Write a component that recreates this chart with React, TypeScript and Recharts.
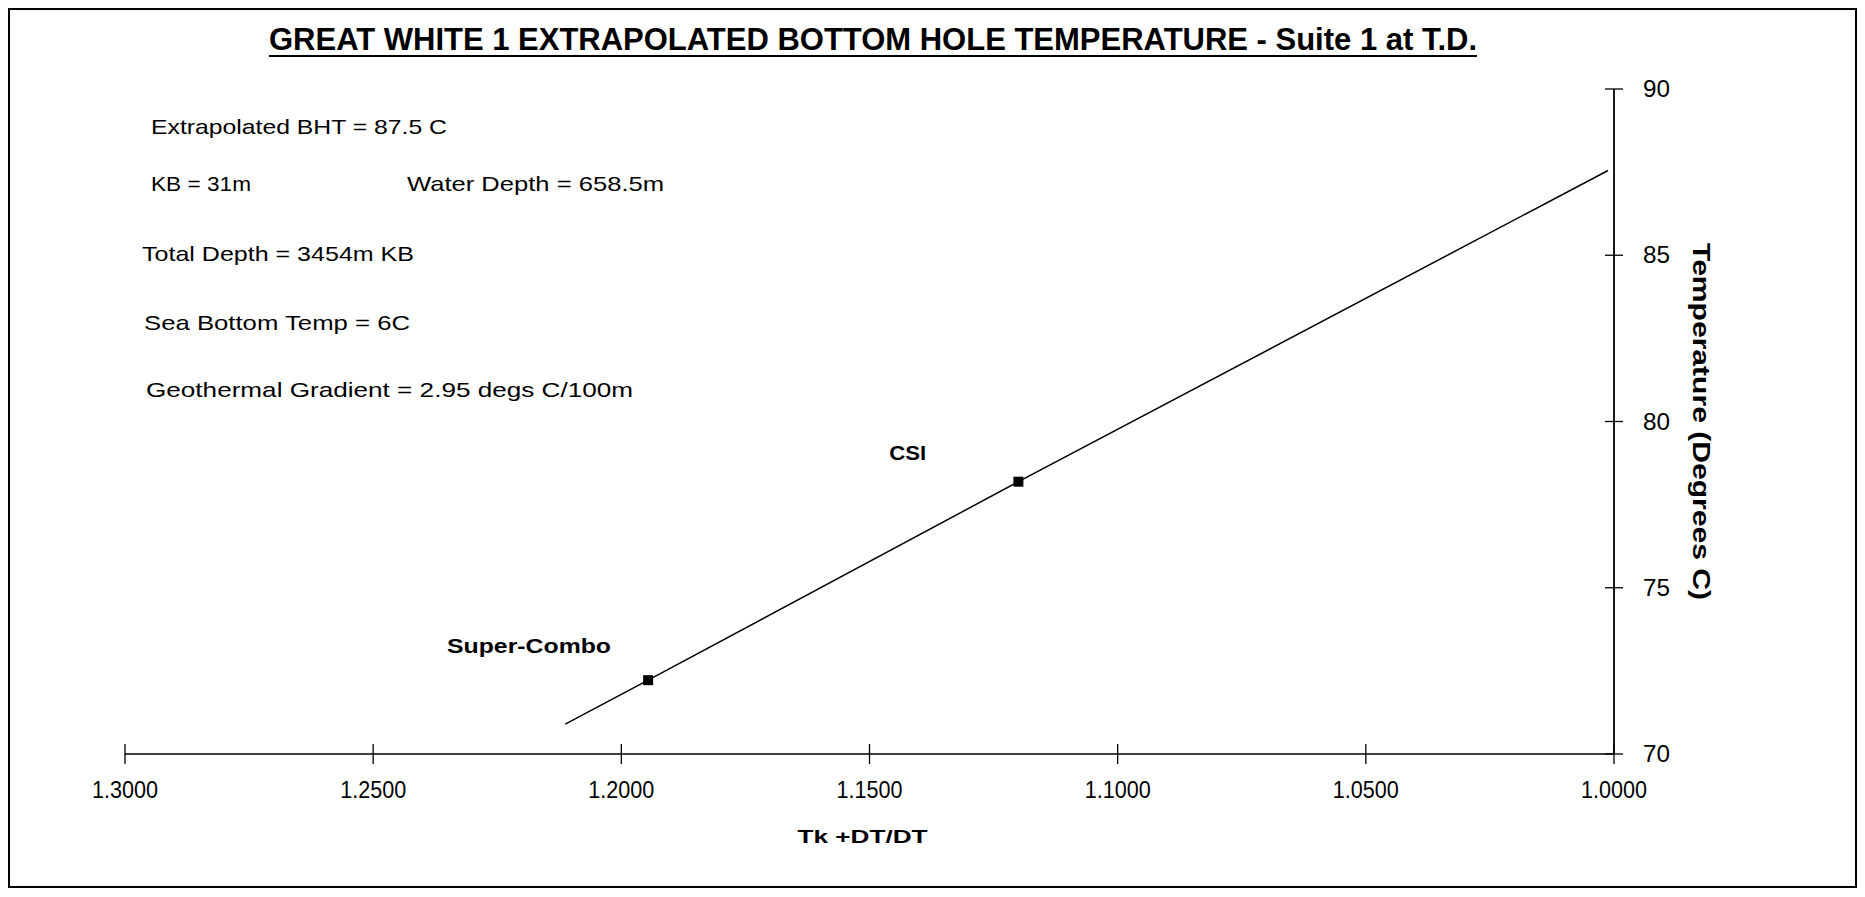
import React from 'react';
import { ScatterChart, Scatter, XAxis, YAxis, Customized, Label } from 'recharts';

// ---- data ----
const xTicks = [1.3, 1.25, 1.2, 1.15, 1.1, 1.05, 1.0];
const yTicks = [70, 75, 80, 85, 90];
const fitX = [1.2113, 1.1946, 1.12, 1.0012];
const fitY = [70.9, 72.22, 78.19, 87.55];
const runNames = ['Super-Combo', 'CSI'];
const runX = [1.1946, 1.12];
const runY = [72.22, 78.19];
const runLabelX = [1.2186, 1.1423];
const runLabelY = [73.26, 79.05];
const noteTexts = [
  'Extrapolated BHT = 87.5 C',
  'KB = 31m',
  'Water Depth = 658.5m',
  'Total Depth = 3454m KB',
  'Sea Bottom Temp = 6C',
  'Geothermal Gradient = 2.95 degs C/100m',
];
const titleText = 'GREAT WHITE 1 EXTRAPOLATED BOTTOM HOLE TEMPERATURE - Suite 1 at T.D.';
const xLabelText = 'Tk +DT/DT';
const yLabelText = 'Temperature (Degrees C)';

const fitData = fitX.map((x, i) => ({ x, y: fitY[i] }));
const runData = runX.map((x, i) => ({ x, y: runY[i] }));
const runLabelData = runLabelX.map((x, i) => ({ x, y: runLabelY[i], name: runNames[i] }));

// ---- layout / styles ----
const FONT = "'Liberation Sans', Arial, sans-serif";
const W = 1849;
const H = 881;
const notePos = [
  { x: 143, y: 118, w: 296 },
  { x: 143, y: 175, w: 100 },
  { x: 399, y: 175, w: 257 },
  { x: 134, y: 245, w: 272 },
  { x: 136, y: 314, w: 266 },
  { x: 138, y: 381, w: 487 },
];
const labelWidths: Record<string, number> = { 'Super-Combo': 164, CSI: 37 };

const XTick = (props: any) => {
  const { x, y, payload } = props;
  return (
    <g>
      <line x1={x} x2={x} y1={y - 10} y2={y + 10} stroke="#000" strokeWidth={1.3} />
      <text x={x} y={y + 36} textAnchor="middle" dominantBaseline="central" fontSize={23} fontFamily={FONT} fill="#000" textLength={66} lengthAdjust="spacingAndGlyphs">
        {Number(payload.value).toFixed(4)}
      </text>
    </g>
  );
};

const YTick = (props: any) => {
  const { x, y, payload } = props;
  return (
    <g>
      <line x1={x - 9} x2={x + 9} y1={y} y2={y} stroke="#000" strokeWidth={1.3} />
      <text x={x + 29} y={y} textAnchor="start" dominantBaseline="central" fontSize={23} fontFamily={FONT} fill="#000" textLength={27} lengthAdjust="spacingAndGlyphs">
        {payload.value}
      </text>
    </g>
  );
};

const Overlay = () => (
  <g>
    <rect x={1} y={1} width={W - 2} height={H - 3} fill="none" stroke="#000" strokeWidth={2} />
    <text x={865} y={42} textAnchor="middle" fontSize={31} fontWeight="bold" fontFamily={FONT} fill="#000" textLength={1208} lengthAdjust="spacingAndGlyphs">
      {titleText}
    </text>
    <line x1={261} x2={1469} y1={48} y2={48} stroke="#000" strokeWidth={2.2} />
    {noteTexts.map((t, i) => (
      <text key={i} x={notePos[i].x} y={notePos[i].y} dominantBaseline="central" fontSize={21} fontFamily={FONT} fill="#000" textLength={notePos[i].w} lengthAdjust="spacingAndGlyphs">
        {t}
      </text>
    ))}
  </g>
);

const RunLabel = (props: any) => {
  const { cx, cy, payload } = props;
  return (
    <text x={cx} y={cy} textAnchor="middle" dominantBaseline="central" fontSize={20} fontWeight="bold" fontFamily={FONT} fill="#000" textLength={labelWidths[payload.name]} lengthAdjust="spacingAndGlyphs">
      {payload.name}
    </text>
  );
};

const SquareMarker = (props: any) => {
  const { cx, cy } = props;
  return <rect x={cx - 5} y={cy - 5} width={10} height={10} fill="#000" />;
};

const NoMarker = () => <g />;

export default function App() {
  return (
    <div style={{ width: W, height: H }}>
      <ScatterChart width={W} height={H} margin={{ top: 81, right: 113, bottom: 35, left: 117 }}>
        <XAxis
          type="number"
          dataKey="x"
          domain={[1.0, 1.3]}
          reversed
          ticks={xTicks}
          interval={0}
          allowDataOverflow
          height={100}
          tickSize={0}
          tickMargin={0}
          tickLine={false}
          axisLine={{ stroke: '#000', strokeWidth: 1.6 }}
          tick={<XTick />}
        >
          <Label
            content={(p: any) => {
              const vb = p.viewBox || {};
              return (
                <text x={vb.x + vb.width / 2 - 7} y={vb.y + 82} textAnchor="middle" dominantBaseline="central" fontSize={19} fontWeight="bold" fontFamily={FONT} fill="#000" textLength={130} lengthAdjust="spacingAndGlyphs">
                  {xLabelText}
                </text>
              );
            }}
          />
        </XAxis>
        <YAxis
          type="number"
          dataKey="y"
          orientation="right"
          domain={[70, 90]}
          ticks={yTicks}
          interval={0}
          allowDataOverflow
          width={130}
          tickSize={0}
          tickMargin={0}
          tickLine={false}
          axisLine={{ stroke: '#000', strokeWidth: 1.8 }}
          tick={<YTick />}
        >
          <Label
            content={(p: any) => {
              const vb = p.viewBox || {};
              const cx = vb.x + 87;
              const cy = vb.y + vb.height / 2;
              return (
                <text x={cx} y={cy} transform={`rotate(90 ${cx} ${cy})`} textAnchor="middle" dominantBaseline="central" fontSize={23} fontWeight="bold" fontFamily={FONT} fill="#000" textLength={357} lengthAdjust="spacingAndGlyphs">
                  {yLabelText}
                </text>
              );
            }}
          />
        </YAxis>
        <Scatter data={fitData} line={{ stroke: '#000', strokeWidth: 1.5 }} lineType="joint" shape={<NoMarker />} isAnimationActive={false} />
        <Scatter data={runData} shape={<SquareMarker />} isAnimationActive={false} />
        <Scatter data={runLabelData} shape={<RunLabel />} isAnimationActive={false} />
        <Customized component={<Overlay />} />
      </ScatterChart>
    </div>
  );
}
